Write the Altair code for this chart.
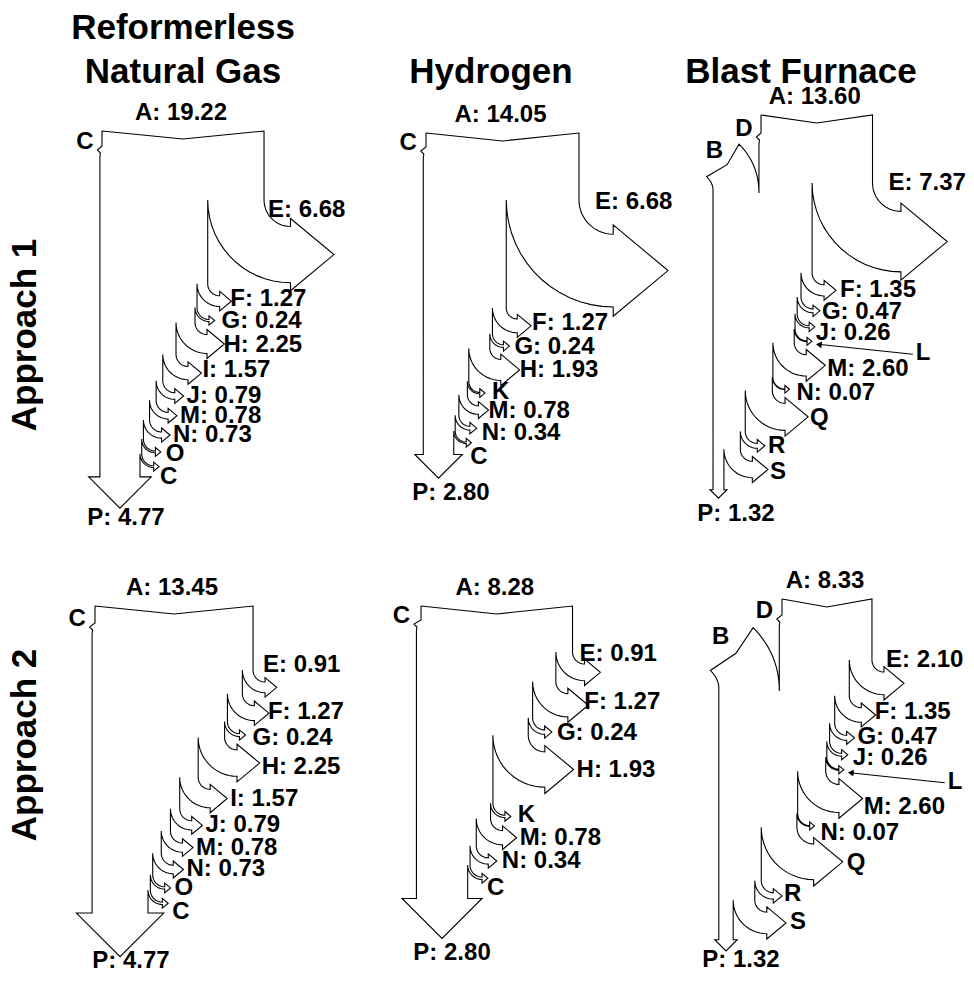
import altair as alt
import numpy as np
import pandas as pd

# ---------------- data ----------------
COLUMN_TITLES = [["Reformerless", "Natural Gas"], ["Hydrogen"], ["Blast Furnace"]]
ROW_TITLES = ["Approach 1", "Approach 2"]

RNG_NAMES = ["E", "F", "G", "H", "I", "J", "M", "N", "O", "C"]
H_NAMES = ["E", "F", "G", "H", "K", "M", "N", "C"]
BF_NAMES = ["E", "F", "G", "J", "L", "M", "N", "Q", "R", "S"]

RNG1_VALUES = [6.68, 1.27, 0.24, 2.25, 1.57, 0.79, 0.78, 0.73, 0.20, 0.20]
H1_VALUES = [6.68, 1.27, 0.24, 1.93, 0.13, 0.78, 0.34, 0.13]
BF1_VALUES = [7.37, 1.35, 0.47, 0.26, 0.10, 2.60, 0.07, 3.30, 0.60, 2.00]
RNG2_VALUES = [0.91, 1.27, 0.24, 2.25, 1.57, 0.79, 0.78, 0.73, 0.20, 0.20]
H2_VALUES = [0.91, 1.27, 0.24, 1.93, 0.13, 0.78, 0.34, 0.13]
BF2_VALUES = [2.10, 1.35, 0.47, 0.26, 0.10, 2.60, 0.07, 3.30, 0.60, 2.00]

OUT_NAMES = [RNG_NAMES, H_NAMES, BF_NAMES, RNG_NAMES, H_NAMES, BF_NAMES]
OUT_VALUES = [RNG1_VALUES, H1_VALUES, BF1_VALUES, RNG2_VALUES, H2_VALUES, BF2_VALUES]
A_VALUES = [19.22, 14.05, 13.60, 13.45, 8.28, 8.33]
P_VALUES = [4.77, 2.80, 1.32, 4.77, 2.80, 1.32]
INPUT_NAMES = [["C"], ["C"], ["D", "B"], ["C"], ["C"], ["D", "B"]]
INPUT_VALUES = [[0.25], [0.25], [0.25, 5.60], [0.25], [0.25], [0.25, 5.60]]
NO_VALUE = {"O", "C", "K", "L", "Q", "R", "S", "B", "D"}

# ---------------- layout (pixels) ----------------
DIP = 8
GAP = 1.0
PITCH = 1.2
DEFAULT_OFF = (3, 0)
LAYOUT = [
    dict(s=8.43, x0=102, ytop=131, yin=[148], yc0=200, rmin=12, pextra=8.4,
         e_off=(4, 10), p_off=(6, 10),
         lab={"F": (-1, -2), "G": (7, 1), "H": (-1, 1), "I": (1, -3), "O": (5, 2), "C": (1, 10)}),
    dict(s=10.89, x0=426, ytop=133, yin=[149], yc0=200, rmin=11, pextra=10,
         e_off=(16, 2), p_off=(12.5, 15),
         lab={"F": (1, -3), "G": (5, 1), "H": (0, 0), "K": (7, -1), "M": (0, 1), "N": (5, 5), "C": (-1, 14)}),
    dict(s=8.2, x0=761, ytop=115, yin=[135, 190], yc0=183, rmin=12, pextra=11,
         e_off=(16, 0), p_off=(17.5, 16),
         lab={"F": (4, 0), "G": (2, 1), "J": (1, 6), "M": (2, 4), "N": (7, 4), "Q": (2, 1), "S": (2, 2)}),
    dict(s=11.75, x0=95, ytop=606, yin=[625], yc0=670, rmin=12, pextra=7.6,
         e_off=(10, -5), p_off=(11, 4.5),
         lab={"F": (-1, -1), "G": (7, 3), "H": (2, 4), "O": (4, 0), "C": (4, 9)}),
    dict(s=18.3, x0=421, ytop=606, yin=[622], yc0=652, rmin=12, pextra=18,
         e_off=(7, 2), p_off=(10, 15), xgap={"H": 15},
         lab={"F": (-4, -3), "G": (5, 1), "K": (7, -1), "N": (5, 0), "C": (-1, 10)}),
    dict(s=10.8, x0=782, ytop=599, yin=[617, 688], yc0=660, rmin=12, pextra=5,
         e_off=(14, 0), p_off=(15, 9),
         lab={"F": (-1, -3), "G": (3, -1), "J": (5, 3), "M": (1, 9), "N": (6, 7), "Q": (4, 1), "R": (2, -2), "S": (4, -1)}),
]


def arc(cx, cy, R, t0, t1, n=16):
    ts = np.radians(np.linspace(t0, t1, n))
    return list(zip(cx + R * np.cos(ts), cy + R * np.sin(ts)))


def qbez(p0, p1, p2, n=16):
    u = np.linspace(0, 1, n)
    x = (1 - u) ** 2 * p0[0] + 2 * (1 - u) * u * p1[0] + u ** 2 * p2[0]
    y = (1 - u) ** 2 * p0[1] + 2 * (1 - u) * u * p1[1] + u ** 2 * p2[1]
    return list(zip(x, y))


line_rows, text_rows, ann_rows, head_rows = [], [], [], []


def build(i):
    L = LAYOUT[i]
    s = L["s"]
    pts = []
    xl_top, ytop = L["x0"], L["ytop"]
    xr = xl_top + A_VALUES[i] * s
    xm = (xl_top + xr) / 2
    pts += [(xl_top, ytop), (xm, ytop + DIP), (xr, ytop)]
    text_rows.append(dict(x=xm - 2, y=ytop - 18, t=f"A: {A_VALUES[i]:.2f}", a="center"))
    xe, yc = xr, L["yc0"]
    for k, (nm, v) in enumerate(zip(OUT_NAMES[i], OUT_VALUES[i])):
        w = v * s
        r = max(L["rmin"], 0.47 * w)
        sh = 3.5 + 0.08 * w
        tl = PITCH * (w / 2 + sh)
        cx, cy = xe + r, yc
        pts.append((xe, yc))
        pts += arc(cx, cy, r, 180, 90)
        xb = xe + r
        tip = (xb + tl, yc + r + w / 2)
        pts += [(xb, yc + r - sh), tip, (xb, yc + r + w + sh), (xb, yc + r + w)]
        pts += arc(cx, cy, r + w, 90, 180)
        label = nm if nm in NO_VALUE else f"{nm}: {v:.2f}"
        if k == 0:
            text_rows.append(dict(x=xr + L["e_off"][0], y=yc + L["e_off"][1], t=label, a="left"))
        elif nm == "L":
            lx, ly = tip[0] + 104, tip[1] + 12
            text_rows.append(dict(x=lx, y=ly, t=label, a="left"))
            ann_rows.append(dict(g=f"ann{i}", o=0, x=lx - 3, y=ly + 1))
            ann_rows.append(dict(g=f"ann{i}", o=1, x=tip[0] + 6, y=tip[1] + 3))
            head_rows.append(dict(x=tip[0] + 7, y=tip[1] + 3.2))
        else:
            dx, dy = L["lab"].get(nm, DEFAULT_OFF)
            text_rows.append(dict(x=tip[0] + dx, y=tip[1] + dy, t=label, a="left"))
        xe -= w
        yc += r + w + GAP + L.get("xgap", {}).get(nm, 0)
    # main output P (downwards)
    xl_bot = xl_top - sum(INPUT_VALUES[i]) * s
    yb = yc + L["pextra"]
    wp = xe - xl_bot
    shp = 0.28 * wp
    ptip = ((xe + xl_bot) / 2, yb + wp / 2 + shp)
    pts += [(xe, yb), (xe + shp, yb), ptip, (xl_bot - shp, yb), (xl_bot, yb)]
    text_rows.append(dict(x=ptip[0] + L["p_off"][0], y=ptip[1] + L["p_off"][1],
                          t=f"P: {P_VALUES[i]:.2f}", a="center"))
    # left-side inputs, from the bottom upwards
    X = xl_bot
    for nm, v, y in reversed(list(zip(INPUT_NAMES[i], INPUT_VALUES[i], L["yin"]))):
        w = v * s
        if nm == "B":
            c = 0.7071
            T1 = (X - 0.14 * w, y - 0.29 * w)
            pts += qbez((X, y), (X, T1[1] + 0.14 * w), T1)
            T2 = (T1[0] + c * w, T1[1] - c * w)
            mid = ((T1[0] + T2[0]) / 2, (T1[1] + T2[1]) / 2)
            pts.append((mid[0] + 6 * c, mid[1] + 6 * c))
            pts += qbez(T2, (X + w, T2[1] + (X + w - T2[0])), (X + w, y + 3))
            text_rows.append(dict(x=T1[0] + 0.17 * w, y=T1[1] - 0.55 * w, t=nm, a="center"))
        else:
            pts += [(X, y + 9), (X + 0.5, y + 5), (X - 2.5, y + 2), (X + w, y - 2)]
            text_rows.append(dict(x=X - 15, y=y - 6, t=nm, a="center"))
        X += w
    pts.append((xl_top, ytop))
    for o, (x, y) in enumerate(pts):
        line_rows.append(dict(g=f"p{i}", o=o, x=float(x), y=float(y)))


for i in range(6):
    build(i)

lines_df = pd.DataFrame(line_rows)
text_df = pd.DataFrame(text_rows)
ann_df = pd.DataFrame(ann_rows)
head_df = pd.DataFrame(head_rows)

col_rows = []
for cx, lines in zip([183, 491, 801], COLUMN_TITLES):
    for j, t in enumerate(lines[::-1]):
        col_rows.append(dict(x=cx, y=83 - 44 * j, t=t))
col_df = pd.DataFrame(col_rows)
row_df = pd.DataFrame([dict(x=36, y=335, t=ROW_TITLES[0]), dict(x=36, y=745, t=ROW_TITLES[1])])

X = alt.X("x:Q", scale=alt.Scale(domain=[8, 966], nice=False, zero=False), axis=None)
Y = alt.Y("y:Q", scale=alt.Scale(domain=[8, 973], nice=False, zero=False, reverse=True), axis=None)
FONT = "Liberation Sans"

outlines = alt.Chart(lines_df).mark_line(color="black", strokeWidth=1.1).encode(
    x=X, y=Y, detail="g:N", order="o:Q")
ann = alt.Chart(ann_df).mark_line(color="black", strokeWidth=1.1).encode(
    x=X, y=Y, detail="g:N", order="o:Q")
heads = alt.Chart(head_df).mark_point(
    shape="triangle-left", filled=True, color="black", size=45, opacity=1, angle=6).encode(x=X, y=Y)
lab_left = alt.Chart(text_df[text_df.a == "left"]).mark_text(
    align="left", baseline="middle", font=FONT, fontWeight="bold", fontSize=24, color="black"
).encode(x=X, y=Y, text="t:N")
lab_center = alt.Chart(text_df[text_df.a == "center"]).mark_text(
    align="center", baseline="middle", font=FONT, fontWeight="bold", fontSize=24, color="black"
).encode(x=X, y=Y, text="t:N")
cols = alt.Chart(col_df).mark_text(
    align="center", baseline="alphabetic", font=FONT, fontWeight="bold", fontSize=35, color="black"
).encode(x=X, y=Y, text="t:N")
rows = alt.Chart(row_df).mark_text(
    align="center", baseline="alphabetic", font=FONT, fontWeight="bold", fontSize=35, color="black", angle=270
).encode(x=X, y=Y, text="t:N")

chart = alt.layer(outlines, ann, heads, lab_left, lab_center, cols, rows).properties(
    width=958, height=965, padding=0, autosize=alt.AutoSizeParams(type="none")
).configure_view(stroke=None)

chart.save("out.html", embed_options={"renderer": "svg", "actions": False})
